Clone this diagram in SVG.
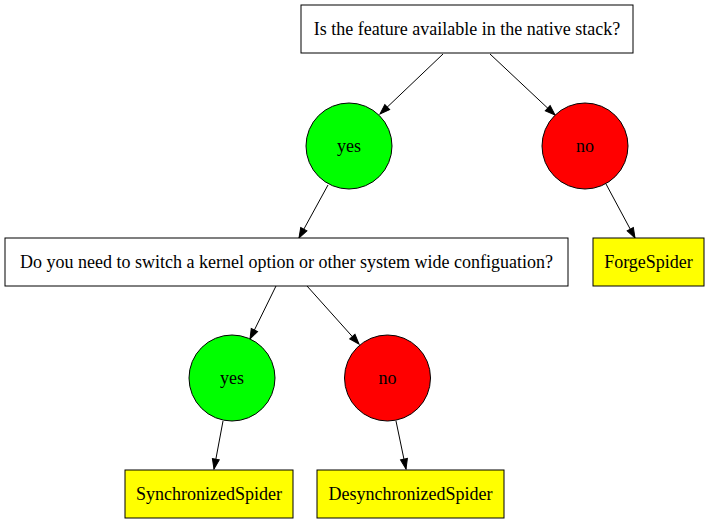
<svg xmlns="http://www.w3.org/2000/svg" width="709" height="524" viewBox="0 0 709 524">
<style>
text{font-family:"Liberation Serif","Times New Roman",serif;font-size:18px;text-anchor:middle;fill:#000}
.box{fill:#fff;stroke:#000;stroke-width:1}
.leaf{fill:#ffff00;stroke:#000;stroke-width:1}
.yes{fill:#00ff00;stroke:#000;stroke-width:1}
.no{fill:#ff0000;stroke:#000;stroke-width:1}
.edge{stroke:#000;stroke-width:1;fill:none;marker-end:url(#arr)}
</style>
<defs>
<marker id="arr" markerUnits="userSpaceOnUse" markerWidth="12" markerHeight="9" refX="10" refY="3.5" orient="auto" overflow="visible">
<path d="M0,0 L10,3.5 L0,7 Z" fill="#000" stroke="#000" stroke-width="1"/>
</marker>
</defs>
<rect width="709" height="524" fill="#fff"/>
<g id="connectors">
<line class="edge" x1="443" y1="54" x2="380" y2="114"/>
<line class="edge" x1="490" y1="54" x2="555" y2="115"/>
<line class="edge" x1="328" y1="185" x2="299" y2="238"/>
<line class="edge" x1="606" y1="184" x2="635" y2="238"/>
<line class="edge" x1="276" y1="286" x2="250" y2="339"/>
<line class="edge" x1="307" y1="286" x2="359" y2="344"/>
<line class="edge" x1="223" y1="421" x2="214" y2="469"/>
<line class="edge" x1="396" y1="421" x2="406" y2="469"/>
</g>
<g id="q1">
<rect class="box" x="301" y="5" width="332" height="48"/>
<text x="467" y="35">Is the feature available in the native stack?</text>
</g>
<g id="yes1">
<circle class="yes" cx="349" cy="146" r="43"/>
<text x="349" y="152">yes</text>
</g>
<g id="no1">
<circle class="no" cx="585" cy="146" r="43"/>
<text x="585" y="152">no</text>
</g>
<g id="q2">
<rect class="box" x="5" y="238" width="563" height="48"/>
<text x="286.5" y="268">Do you need to switch a kernel option or other system wide configuation?</text>
</g>
<g id="forge">
<rect class="leaf" x="593" y="238" width="111" height="48"/>
<text x="648.5" y="268">ForgeSpider</text>
</g>
<g id="yes2">
<circle class="yes" cx="232" cy="378" r="43"/>
<text x="232" y="384">yes</text>
</g>
<g id="no2">
<circle class="no" cx="387.5" cy="378" r="43"/>
<text x="387.5" y="384">no</text>
</g>
<g id="sync">
<rect class="leaf" x="125" y="470" width="168" height="48"/>
<text x="209" y="500">SynchronizedSpider</text>
</g>
<g id="desync">
<rect class="leaf" x="317" y="470" width="187" height="48"/>
<text x="410.5" y="500">DesynchronizedSpider</text>
</g>
</svg>
